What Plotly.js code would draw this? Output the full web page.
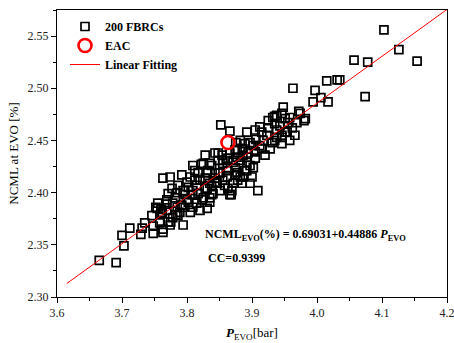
<!DOCTYPE html>
<html><head><meta charset="utf-8">
<script src="https://cdn.plot.ly/plotly-3.0.1.min.js"></script>
<style>html,body{margin:0;padding:0;background:#fff}#c{width:454px;height:343px}</style>
</head><body><div id="c"></div>
<script>
const fbrcX = [3.665,3.691,3.703,3.700,3.712,3.731,3.735,3.729,3.748,3.748,3.763,3.763,3.758,3.771,3.778,3.783,3.794,3.746,3.754,3.755,
3.762,3.769,3.769,3.778,3.792,3.800,3.809,3.815,3.823,3.831,3.835,3.840,3.835,3.831,3.771,3.777,3.785,3.786,3.794,3.800,
3.802,3.805,3.809,3.808,3.817,3.828,3.838,3.846,3.855,3.863,3.851,3.866,3.838,3.763,3.774,3.792,3.809,3.822,3.835,3.848,
3.855,3.866,3.877,3.886,3.892,3.882,3.871,3.862,3.851,3.843,3.831,3.817,3.815,3.825,3.892,3.897,3.886,3.878,3.877,3.852,
3.866,3.875,3.892,3.905,3.915,3.906,3.897,3.889,3.917,3.923,3.931,3.938,3.932,3.946,3.948,3.938,3.951,3.955,3.943,3.951,
3.969,3.974,3.982,3.946,3.946,3.928,3.915,3.905,3.894,3.885,3.874,3.886,3.905,3.892,3.902,3.889,3.874,3.871,3.863,3.854,
3.848,3.843,3.855,3.838,3.848,3.832,3.825,3.863,3.862,3.874,3.882,3.900,3.885,3.871,3.858,3.846,3.835,3.909,3.877,4.103,
4.126,4.154,4.057,4.078,4.074,4.015,4.031,4.035,3.997,4.006,3.994,4.017,3.963,3.980,3.972,3.935,3.938,3.954,3.946,3.958,
3.935,3.868,3.785,3.794,3.789,3.802,3.775,3.774,3.760,3.760,3.752,3.769,3.912,3.925,3.962,3.966,3.897,3.920,3.912,3.935,
3.869,3.812,3.820,3.828,3.843,3.797,3.782,3.820,3.805,3.786,3.812,3.882,3.902,3.925,3.958,3.828];
const fbrcY = [2.335,2.333,2.349,2.359,2.366,2.366,2.371,2.360,2.361,2.368,2.362,2.365,2.371,2.372,2.376,2.379,2.369,2.378,2.385,2.390,
2.381,2.383,2.393,2.390,2.388,2.393,2.386,2.390,2.393,2.385,2.391,2.399,2.395,2.404,2.399,2.404,2.400,2.407,2.402,2.410,
2.405,2.415,2.402,2.398,2.399,2.404,2.407,2.409,2.412,2.404,2.402,2.398,2.398,2.414,2.415,2.417,2.426,2.427,2.428,2.438,
2.431,2.438,2.441,2.442,2.434,2.431,2.429,2.424,2.419,2.419,2.419,2.419,2.407,2.395,2.421,2.409,2.415,2.412,2.419,2.465,
2.459,2.448,2.458,2.460,2.458,2.451,2.448,2.447,2.450,2.455,2.448,2.453,2.472,2.476,2.482,2.474,2.471,2.467,2.464,2.458,
2.467,2.476,2.471,2.455,2.447,2.442,2.442,2.439,2.438,2.441,2.441,2.436,2.433,2.429,2.424,2.421,2.424,2.431,2.433,2.436,
2.431,2.438,2.428,2.426,2.419,2.421,2.428,2.421,2.415,2.417,2.415,2.415,2.409,2.409,2.407,2.410,2.409,2.402,2.434,2.556,
2.537,2.526,2.527,2.525,2.492,2.507,2.508,2.508,2.498,2.491,2.487,2.487,2.500,2.469,2.478,2.466,2.460,2.458,2.453,2.472,
2.473,2.398,2.386,2.386,2.381,2.391,2.372,2.369,2.380,2.384,2.386,2.389,2.463,2.462,2.462,2.455,2.426,2.436,2.445,2.450,
2.402,2.412,2.412,2.414,2.414,2.398,2.395,2.383,2.381,2.378,2.421,2.450,2.445,2.469,2.450,2.436];
const eacX = [3.863];
const eacY = [2.448];
const fitIntercept = 0.69031;
const fitSlope = 0.44886;
const fitRangeX = [3.615, 4.2];
const fitY = fitRangeX.map(x => fitIntercept + fitSlope * x);
const xTicks = [3.6,3.7,3.8,3.9,4.0,4.1,4.2];
const xTickText = ['3.6','3.7','3.8','3.9','4.0','4.1','4.2'];
const yTicks = [2.30,2.35,2.40,2.45,2.50,2.55];
const yTickText = ['2.30','2.35','2.40','2.45','2.50','2.55'];

const serif = 'Liberation Serif, Times New Roman, serif';
const traces = [
  {x: fbrcX, y: fbrcY, type:'scatter', mode:'markers', name:'200 FBRCs',
   marker:{symbol:'square-open', size:8, color:'#000', line:{width:1.7, color:'#000'}}},
  {x: eacX, y: eacY, type:'scatter', mode:'markers', name:'EAC',
   marker:{symbol:'circle-open', size:13, color:'#ff0000', line:{width:2.6, color:'#ff0000'}}},
  {x: fitRangeX, y: fitY, type:'scatter', mode:'lines', name:'Linear Fitting',
   line:{color:'#ff0000', width:1}}
];
const axisCommon = {showgrid:false, zeroline:false, showline:true, linecolor:'#000', linewidth:1,
  mirror:true, ticks:'outside', ticklen:5, tickwidth:1, tickcolor:'#000', ticklabeloverflow:'allow',
  tickfont:{family:serif, size:12, color:'#222'}};
const layout = {
  width:454, height:343,
  margin:{l:57, r:7, t:10, b:46},
  paper_bgcolor:'#fff', plot_bgcolor:'#fff',
  font:{family:serif, color:'#000'},
  showlegend:true,
  legend:{x:(65-57)/390, y:(297-12)/287, xanchor:'left', yanchor:'top', bgcolor:'rgba(0,0,0,0)',
    font:{family:serif, size:12, color:'#000', weight:'bold'}, tracegroupgap:0, itemwidth:30},
  xaxis: Object.assign({}, axisCommon, {range:[3.6,4.2], tickvals:xTicks, ticktext:xTickText,
    minor:{dtick:0.05, ticklen:3, tickcolor:'#000', ticks:'outside'},
    title:{text:'<b><i>P</i></b><sub>EVO</sub>[bar]', font:{family:serif, size:13, color:'#000'}, standoff:8}}),
  yaxis: Object.assign({}, axisCommon, {range:[2.30,2.575], tickvals:yTicks, ticktext:yTickText,
    minor:{dtick:0.025, ticklen:3, tickcolor:'#000', ticks:'outside'},
    title:{text:'NCML at EVO [%]', font:{family:serif, size:13, color:'#000'}, standoff:6}}),
  annotations:[
    {xref:'paper', yref:'paper', x:(203-57)/390, y:(297-235)/287, xanchor:'left', yanchor:'middle', showarrow:false,
     text:'<b>NCML<sub>EVO</sub>(%) = 0.69031+0.44886 <i>P</i><sub>EVO</sub></b>', font:{family:serif, size:12, color:'#000'}},
    {xref:'paper', yref:'paper', x:(206-57)/390, y:(297-258)/287, xanchor:'left', yanchor:'middle', showarrow:false,
     text:'<b>CC=0.9399</b>', font:{family:serif, size:12, color:'#000'}}
  ]
};
Plotly.newPlot('c', traces, layout, {displayModeBar:false, staticPlot:true});
</script></body></html>
